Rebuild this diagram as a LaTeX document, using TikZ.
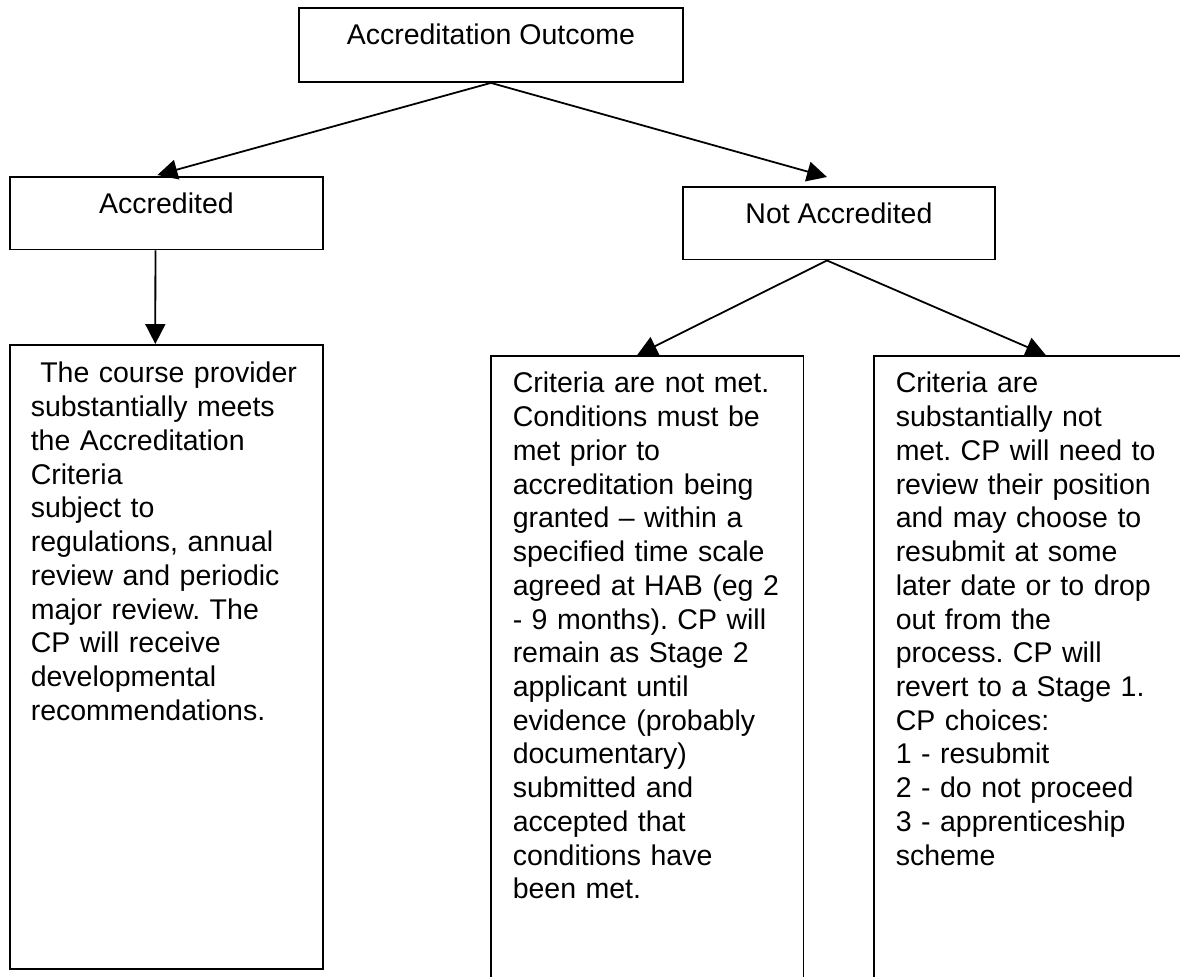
\documentclass[tikz,border=0pt]{standalone}
\usepackage{fontspec}
\setmainfont{Liberation Sans}
\usetikzlibrary{arrows.meta,calc}
\frenchspacing

\begin{document}
\begin{tikzpicture}[
          x=0.421pt, y=-0.421pt,
          font=\fontsize{12}{14.2}\selectfont,
          box/.style={draw, line width=0.75pt, fill=white, inner sep=0pt, anchor=north west},
          headbox/.style={box, align=center, text height=15.4pt, text depth=15.2pt},
          textbox/.style={box, align=left, text height=15.6pt, text depth=256pt, inner xsep=9.2pt},
          arrow/.style={-{Triangle[length=8.4pt, width=8.4pt]}, line width=0.75pt}
        ]
          \useasboundingbox (0,0) rectangle (1180,976);
          \clip (0,0) rectangle (1180,976);

          % Top
          \node[headbox, minimum width=161.7pt, text height=15.2pt, text depth=16pt] (outcome) at (298,7) {Accreditation Outcome};

          % Outcomes
          \node[headbox, minimum width=131.8pt] (accr) at (9,176) {Accredited};
          \node[headbox, minimum width=131.4pt] (notaccr) at (682,186) {Not Accredited};

          % Details
          \node[textbox, text width=114.1pt, inner xsep=8.8pt, text height=16pt, text depth=246.7pt] (accrtext) at (9,344)
            {~The course provider\\ substantially meets\\ the Accreditation\\ Criteria\\ subject to\\ regulations, annual\\ review and periodic\\ major review. The\\ CP will receive\\ developmental\\ recommendations.};
          \node[textbox, text width=113.2pt] (condtext) at (490,355)
            {Criteria are not met.\\ Conditions must be\\ met prior to\\ accreditation being\\ granted – within a\\ specified time scale\\ agreed at HAB (eg 2\\ - 9 months). CP will\\ remain as Stage 2\\ applicant until\\ evidence (probably\\ documentary)\\ submitted and\\ accepted that\\ conditions have\\ been met.};
          \node[textbox, text width=120.4pt] (resubtext) at (873,355)
            {Criteria are\\ substantially not\\ met. CP will need to\\ review their position\\ and may choose to\\ resubmit at some\\ later date or to drop\\ out from the\\ process. CP will\\ revert to a Stage 1.\\ CP choices:\\ 1 - resubmit\\ 2 - do not proceed\\ 3 - apprenticeship\\ scheme};

          % Arrows
          \draw[arrow] (outcome.south) -- ($(accr.north)+(-9,-1)$);
          \draw[arrow] (outcome.south) -- ($(notaccr.north)+(-12,-9)$);
          \draw[arrow] ($(accr.south)+(-11,0)$) -- ($(accrtext.north)+(-11,0)$);
          \draw[arrow] ($(notaccr.south)+(-12,0)$) -- ($(condtext.north)+(-10,0)$);
          \draw[arrow] ($(notaccr.south)+(-12,0)$) -- ($(resubtext.north)+(7,0)$);

        \end{tikzpicture}
\end{document}
